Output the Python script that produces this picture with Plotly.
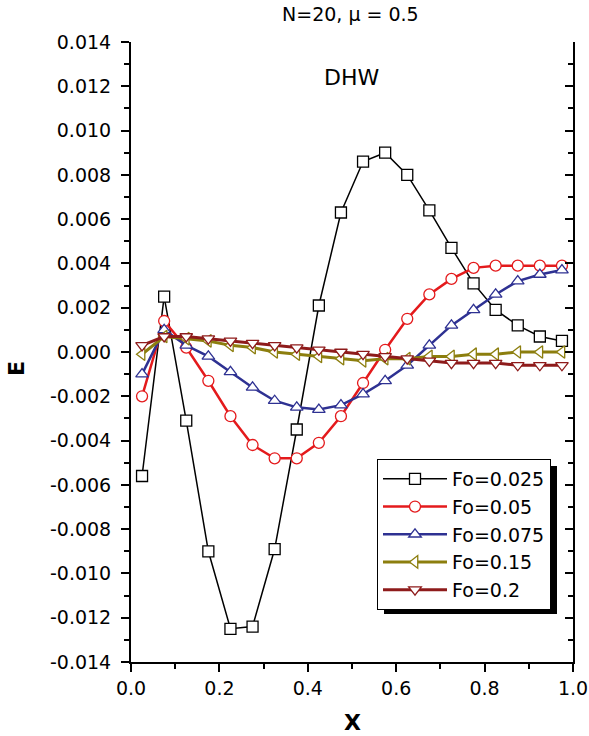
import plotly.graph_objects as go

x_vals = [0.025, 0.075, 0.125, 0.175, 0.225, 0.275, 0.325, 0.375, 0.425, 0.475,
          0.525, 0.575, 0.625, 0.675, 0.725, 0.775, 0.825, 0.875, 0.925, 0.975]

fo_0025 = [-0.0056, 0.0025, -0.0031, -0.0090, -0.0125, -0.0124, -0.0089, -0.0035, 0.0021, 0.0063,
           0.0086, 0.0090, 0.0080, 0.0064, 0.0047, 0.0031, 0.0019, 0.0012, 0.0007, 0.0005]
fo_005 = [-0.0020, 0.0014, 0.0002, -0.0013, -0.0029, -0.0042, -0.0048, -0.0048, -0.0041, -0.0029,
          -0.0014, 0.0001, 0.0015, 0.0026, 0.0033, 0.0038, 0.0039, 0.0039, 0.0039, 0.0039]
fo_0075 = [-0.0010, 0.0010, 0.0003, -0.0002, -0.0009, -0.0016, -0.0022, -0.0025, -0.0026, -0.0024,
           -0.0019, -0.0013, -0.0006, 0.0003, 0.0012, 0.0019, 0.0026, 0.0032, 0.0035, 0.0037]
fo_015 = [-0.0001, 0.0007, 0.0006, 0.0005, 0.0003, 0.0002, 0.0000, -0.0001, -0.0002, -0.0003,
          -0.0004, -0.0003, -0.0003, -0.0002, -0.0002, -0.0001, -0.0001, 0.0000, 0.0000, 0.0000]
fo_02 = [0.0003, 0.0007, 0.0007, 0.0006, 0.0005, 0.0004, 0.0003, 0.0002, 0.0001, 0.0000,
         -0.0001, -0.0002, -0.0003, -0.0004, -0.0005, -0.0005, -0.0005, -0.0006, -0.0006, -0.0006]

series_names = ["Fo=0.025", "Fo=0.05", "Fo=0.075", "Fo=0.15", "Fo=0.2"]
series_values = [fo_0025, fo_005, fo_0075, fo_015, fo_02]

y_tick_vals = [0.014, 0.012, 0.010, 0.008, 0.006, 0.004, 0.002, 0.0,
               -0.002, -0.004, -0.006, -0.008, -0.010, -0.012, -0.014]
y_tick_text = ["0.014", "0.012", "0.010", "0.008", "0.006", "0.004", "0.002", "0.000",
               "-0.002", "-0.004", "-0.006", "-0.008", "-0.010", "-0.012", "-0.014"]
x_tick_vals = [0.0, 0.2, 0.4, 0.6, 0.8, 1.0]
x_tick_text = ["0.0", "0.2", "0.4", "0.6", "0.8", "1.0"]

colors = ["#000000", "#E41A1C", "#2E3192", "#8C7E0E", "#8E1B1B"]
symbols = ["square", "circle", "triangle-up", "triangle-left", "triangle-down"]
line_widths = [1.5, 2.5, 2.5, 3, 3]

FONT = "DejaVu Sans"

fig = go.Figure()
for name, vals, c, s, lw in zip(series_names, series_values, colors, symbols, line_widths):
    fig.add_trace(go.Scatter(
        x=x_vals, y=vals, name=name, mode="lines+markers",
        line=dict(color=c, width=lw),
        marker=dict(symbol=s, size=11, color="white", line=dict(color=c, width=1.3)),
    ))

# invisible trace for the right-hand mirrored axis
fig.add_trace(go.Scatter(x=[0.5], y=[0], yaxis="y2", mode="markers",
                         marker=dict(opacity=0), showlegend=False, hoverinfo="skip"))

tick_font = dict(family=FONT, size=19, color="black")

# plot area pixels: left 131, right 573, top 42, bottom 662
def px(xp):
    return (xp - 131) / 442

def py(yp):
    return (662 - yp) / 620

fig.update_layout(
    width=589, height=736,
    margin=dict(l=131, r=16, t=42, b=74, autoexpand=False),
    paper_bgcolor="white", plot_bgcolor="white",
    font=dict(family=FONT, color="black"),
    showlegend=True,
    legend=dict(x=px(377), y=py(459), xanchor="left", yanchor="top",
                bgcolor="white", bordercolor="black", borderwidth=1,
                font=dict(family=FONT, size=19, color="black"),
                itemwidth=64, tracegroupgap=0),
    xaxis=dict(range=[0, 1], tickvals=x_tick_vals, ticktext=x_tick_text,
               showgrid=False, zeroline=False, showline=True, linecolor="black", linewidth=2,
               ticks="outside", ticklen=8, tickwidth=1.5, tickcolor="black",
               tickfont=tick_font, automargin=False,
               minor=dict(dtick=0.1, tick0=0, ticks="outside", ticklen=5, tickwidth=1.5,
                          tickcolor="black", showgrid=False)),
    yaxis=dict(range=[-0.014, 0.014], tickvals=y_tick_vals, ticktext=y_tick_text,
               showgrid=False, zeroline=False, showline=True, linecolor="black", linewidth=2,
               ticks="outside", ticklen=8, tickwidth=1.5, tickcolor="black",
               tickfont=tick_font, ticklabelstandoff=6, automargin=False,
               minor=dict(dtick=0.001, tick0=0, ticks="outside", ticklen=5, tickwidth=1.5,
                          tickcolor="black", showgrid=False)),
    yaxis2=dict(range=[-0.014, 0.014], overlaying="y", side="right", anchor="x",
                dtick=0.002, tick0=0, showticklabels=False, automargin=False,
                showgrid=False, zeroline=False, showline=True, linecolor="black", linewidth=2,
                ticks="inside", ticklen=8, tickwidth=1.5, tickcolor="black",
                minor=dict(dtick=0.001, tick0=0, ticks="inside", ticklen=5, tickwidth=1.5,
                           tickcolor="black", showgrid=False)),
    shapes=[dict(type="rect", xref="paper", yref="paper",
                 x0=px(384), x1=px(557), y0=py(614), y1=py(466),
                 fillcolor="black", line=dict(width=0), layer="above")],
    annotations=[
        dict(text="N=20, \u03bc = 0.5", xref="paper", yref="paper",
             x=px(350), y=py(14), xanchor="center", yanchor="middle",
             showarrow=False, font=dict(family=FONT, size=19, color="black")),
        dict(text="DHW", xref="x", yref="y", x=0.498, y=0.0124,
             xanchor="center", yanchor="middle", showarrow=False,
             font=dict(family=FONT, size=22, color="black")),
        dict(text="<b>E</b>", xref="paper", yref="paper",
             x=px(16), y=py(368), xanchor="center", yanchor="middle",
             textangle=-90, showarrow=False, font=dict(family=FONT, size=22, color="black")),
        dict(text="<b>X</b>", xref="paper", yref="paper",
             x=0.5, y=py(722), xanchor="center", yanchor="middle",
             showarrow=False, font=dict(family=FONT, size=22, color="black")),
    ],
)

fig.write_html("out.html", config={"displayModeBar": False},
               post_script="document.body.style.margin='0';document.body.style.overflow='hidden';")
